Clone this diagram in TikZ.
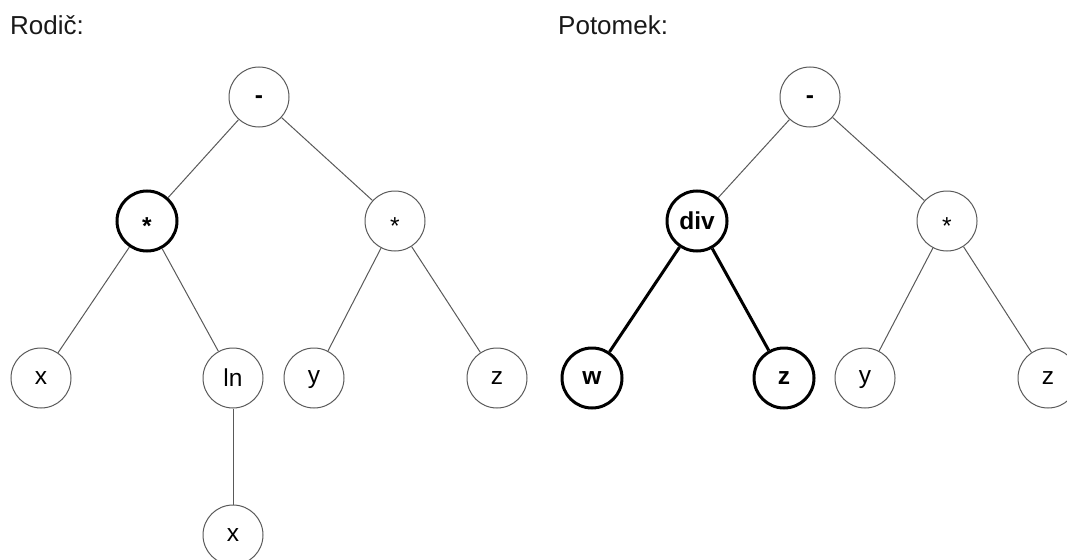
\documentclass[tikz,border=0pt]{standalone}
\usepackage{fontspec}
\setmainfont{Liberation Sans}

\tikzset{
  treenode/.style={circle, draw=black!65, line width=1pt, minimum size=60pt, inner sep=0pt,
    font=\fontsize{24.5}{28}\selectfont, text=black},
  hinode/.style={treenode, draw=black, line width=3pt, font=\fontsize{24.5}{28}\selectfont\bfseries},
  treelabel/.style={anchor=base west, inner sep=0pt, font=\fontsize{26}{30}\selectfont, text=black!90},
  thinedge/.style={draw=black!65, line width=1pt},
  boldedge/.style={draw=black, line width=3pt}
}
\newcommand{\opminus}{\raisebox{-.27em}[0pt][0pt]{\textbf{-}}}
\newcommand{\opstar}{\raisebox{-.55em}[0pt][0pt]{*}}

\begin{document}
\begin{tikzpicture}[x=1pt, y=-1pt]

        \useasboundingbox (0,0) rectangle (1067,559);

        \node[treelabel] (rodic)   at (10,35)  {Rodič:};
        \node[treelabel] (potomek) at (558,35) {Potomek:};

        % rodic
        \begin{scope}[every node/.style={treenode}]
          \node (pm)  at (259,97)  {\opminus};
          \node[hinode] (pt1) at (147,221) {\opstar};
          \node (pt2) at (395,221) {\opstar};
          \node (px1) at (41,378)  {x};
          \node (pln) at (233,378) {ln};
          \node[text depth=1pt] (py)  at (314,378) {y};
          \node (pz)  at (497,378) {z};
          \node (px2) at (233,535) {x};
        \end{scope}

        % potomek
        \begin{scope}[every node/.style={treenode}]
          \node (cm)  at (810,97)  {\opminus};
          \node[hinode] (cdiv) at (697,221) {div};
          \node (ct)  at (947,221) {\opstar};
          \node[hinode] (cw)  at (592,378) {w};
          \node[hinode] (cz1) at (784,378) {z};
          \node[text depth=1pt] (cy)  at (865,378) {y};
          \node (cz2) at (1048,378) {z};
        \end{scope}

        \begin{scope}[every edge/.style={thinedge}]
          \path (pm)  edge (pt1);
          \path (pm)  edge (pt2);
          \path (pt1) edge (px1);
          \path (pt1) edge (pln);
          \path (pln) edge (px2);
          \path (pt2) edge (py);
          \path (pt2) edge (pz);
          \path (cm)  edge (cdiv);
          \path (cm)  edge (ct);
          \path (ct)  edge (cy);
          \path (ct)  edge (cz2);
        \end{scope}

        \begin{scope}[every edge/.style={boldedge}]
          \path (cdiv) edge (cw);
          \path (cdiv) edge (cz1);
        \end{scope}

      \end{tikzpicture}
\end{document}
